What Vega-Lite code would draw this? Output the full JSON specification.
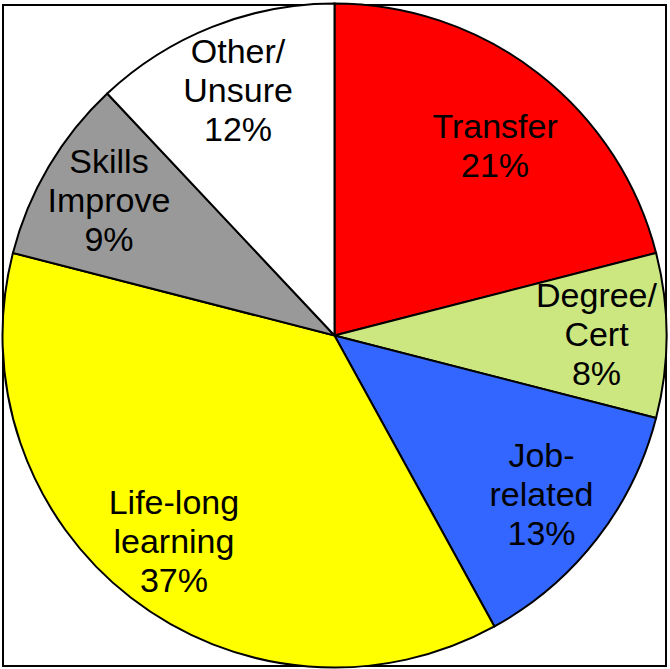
{
  "$schema": "https://vega.github.io/schema/vega-lite/v6.json",
  "width": 670,
  "height": 669,
  "autosize": {"type": "fit", "contains": "padding"},
  "padding": {"left": 2, "top": 3, "right": 3, "bottom": 1},
  "background": "white",
  "view": {"stroke": "black", "strokeWidth": 2},
  "data": {
    "values": [
      {"category": "Transfer", "label": "\nTransfer\n21%", "value": 21, "order": 1},
      {"category": "Degree/Cert", "label": "Degree/\nCert\n8%", "value": 8, "order": 2},
      {"category": "Job-related", "label": "Job-\nrelated\n13%", "value": 13, "order": 3},
      {"category": "Life-long learning", "label": "Life-long\nlearning\n37%", "value": 37, "order": 4},
      {"category": "Skills Improve", "label": "Skills\nImprove\n9%", "value": 9, "order": 5},
      {"category": "Other/Unsure", "label": "Other/\nUnsure\n12%", "value": 12, "order": 6}
    ]
  },
  "encoding": {
    "theta": {"field": "value", "type": "quantitative", "stack": true},
    "order": {"field": "order", "type": "quantitative"},
    "color": {
      "field": "category",
      "type": "nominal",
      "scale": {
        "domain": ["Transfer", "Degree/Cert", "Job-related", "Life-long learning", "Skills Improve", "Other/Unsure"],
        "range": ["#FF0000", "#CCE680", "#3366FF", "#FFFF00", "#999999", "#FFFFFF"]
      },
      "legend": null
    }
  },
  "layer": [
    {"mark": {"type": "arc", "outerRadius": 332, "stroke": "black", "strokeWidth": 2}},
    {
      "mark": {"type": "text", "radius": 262, "dy": -39, "fontSize": 34, "font": "Liberation Sans", "lineBreak": "\n", "lineHeight": 39, "align": "center", "baseline": "middle"},
      "encoding": {"text": {"field": "label", "type": "nominal"}, "color": {"value": "black"}}
    }
  ]
}
